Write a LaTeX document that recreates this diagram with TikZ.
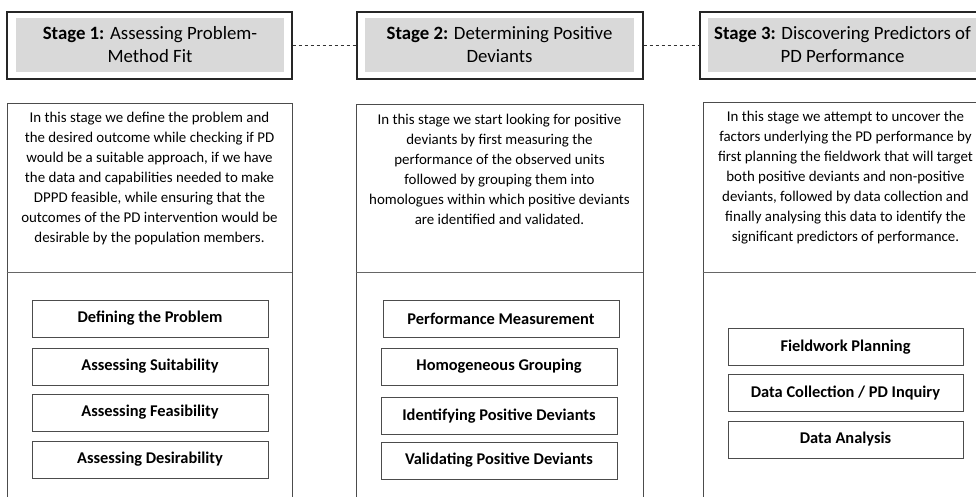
\documentclass[tikz,border=0pt]{standalone}
\usepackage{fontspec}
\setmainfont{Carlito}
\begin{document}
\begin{tikzpicture}[x=1pt,y=-1pt,
  outerbox/.style={draw=black!85,line width=1.1pt,fill=white,inner sep=0pt},
  graybox/.style={fill=black!15,inner sep=0pt,align=center,font=\fontsize{18.8}{23}\selectfont},
  colbox/.style={draw=black!70,line width=0.8pt,inner sep=0pt},
  bodytext/.style={align=center,font=\fontsize{14.9}{20}\selectfont,inner sep=0pt},
  substep/.style={draw=black!70,line width=0.8pt,inner sep=0pt,minimum height=37pt,font=\fontsize{16.4}{18}\selectfont\bfseries},
  link/.style={draw=black!80,dashed,line width=0.8pt}]
\useasboundingbox (0,0) rectangle (976,496);
\clip (0,0) rectangle (976,496);
\fill[white] (0,0) rectangle (976,496);
% headers
\node[outerbox,minimum width=285pt,minimum height=67pt] (h1) at (149.5,45.5) {};
\node[graybox,minimum width=268pt,minimum height=54pt] (g1) at (150,45) {\textbf{Stage 1:} Assessing Problem-\\Method Fit};
\node[outerbox,minimum width=286pt,minimum height=67pt] (h2) at (500,45.5) {};
\node[graybox,minimum width=269pt,minimum height=54pt] (g2) at (499.5,45) {\textbf{Stage 2:} Determining Positive\\Deviants};
\node[outerbox,minimum width=286pt,minimum height=67pt] (h3) at (843,45.5) {};
\node[graybox,minimum width=269pt,minimum height=54pt] (g3) at (842.5,45) {\textbf{Stage 3:} Discovering Predictors of\\PD Performance};
\draw[link] (h1.east) -- (h2.west);
\draw[link] (h2.east) -- (h3.west);
% columns
\node[colbox,minimum width=285pt,minimum height=440pt,anchor=north] (c1) at (149.5,103) {};
\node[colbox,minimum width=287pt,minimum height=440pt,anchor=north] (c2) at (499.5,104) {};
\node[colbox,minimum width=286pt,minimum height=440pt,anchor=north] (c3) at (846,102) {};
\draw[draw=black!60,line width=0.8pt] (c1.west |- 0,272) -- (c1.east |- 0,272);
\draw[draw=black!60,line width=0.8pt] (c2.west |- 0,272) -- (c2.east |- 0,272);
\draw[draw=black!60,line width=0.8pt] (c3.west |- 0,272) -- (c3.east |- 0,272);
% body texts
\node[bodytext] (t1) at (149.5,179) {In this stage we define the problem and\\the desired outcome while checking if PD\\would be a suitable approach, if we have\\the data and capabilities needed to make\\DPPD feasible, while ensuring that the\\outcomes of the PD intervention would be\\desirable by the population members.};
\node[bodytext] (t2) at (499.5,169) {In this stage we start looking for positive\\deviants by first measuring the\\performance of the observed units\\followed by grouping them into\\homologues within which positive deviants\\are identified and validated.};
\node[bodytext] (t3) at (845.5,178) {In this stage we attempt to uncover the\\factors underlying the PD performance by\\first planning the fieldwork that will target\\both positive deviants and non-positive\\deviants, followed by data collection and\\finally analysing this data to identify the\\significant predictors of performance.};
% sub steps
\node[substep,minimum width=236pt] (s11) at (150,318.5) {Defining the Problem};
\node[substep,minimum width=236pt] (s12) at (150,366.5) {Assessing Suitability};
\node[substep,minimum width=236pt] (s13) at (150,412.5) {Assessing Feasibility};
\node[substep,minimum width=236pt] (s14) at (150,459.5) {Assessing Desirability};
\node[substep,minimum width=236pt] (s21) at (501,318.5) {Performance Measurement};
\node[substep,minimum width=236pt] (s22) at (499,366.5) {Homogeneous Grouping};
\node[substep,minimum width=236pt] (s23) at (499,416) {Identifying Positive Deviants};
\node[substep,minimum width=236pt] (s24) at (499,460.5) {Validating Positive Deviants};
\node[substep,minimum width=235pt] (s31) at (845.5,347) {Fieldwork Planning};
\node[substep,minimum width=235pt] (s32) at (845.5,393) {Data Collection / PD Inquiry};
\node[substep,minimum width=235pt] (s33) at (845.5,439.5) {Data Analysis};
\end{tikzpicture}
\end{document}
